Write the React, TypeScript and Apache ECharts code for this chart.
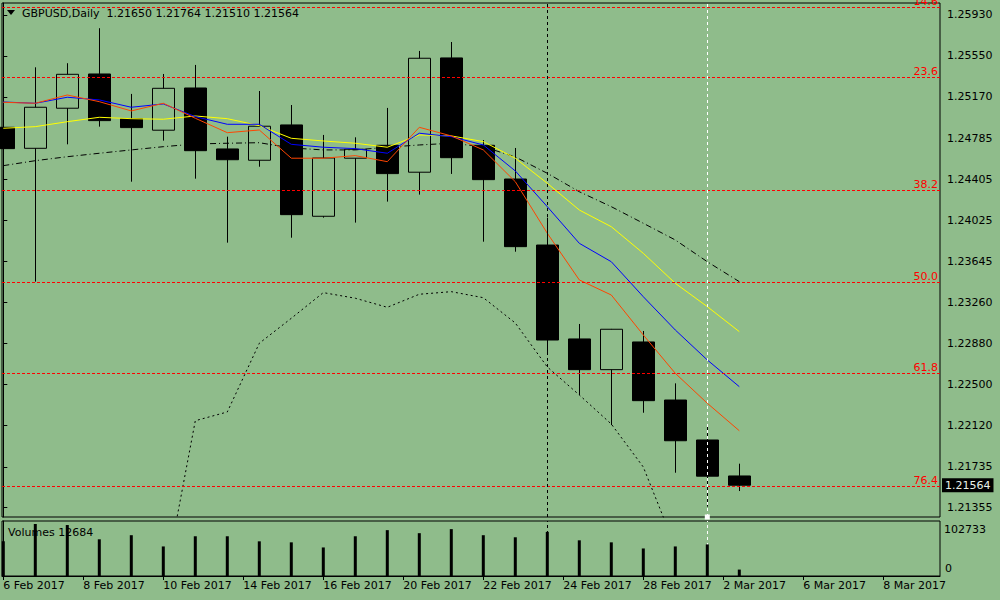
import React, { useEffect, useRef } from "react";
import * as echarts from "echarts";

// ---- data ----
const opens = [1.24887, 1.24692, 1.25064, 1.25382, 1.24967, 1.2486, 1.25252, 1.24686, 1.24581, 1.24909, 1.24061, 1.246, 1.2472, 1.2447, 1.25531, 1.2472, 1.24407, 1.23794, 1.22922, 1.22637, 1.22894, 1.22355, 1.21984, 1.2165];
const closes = [1.24689, 1.25073, 1.25379, 1.24949, 1.24884, 1.25249, 1.2467, 1.24586, 1.24897, 1.24076, 1.24602, 1.24683, 1.24457, 1.25528, 1.24605, 1.24401, 1.23779, 1.22912, 1.22637, 1.23012, 1.22349, 1.21977, 1.21648, 1.21564];
const lows = [1.24252, 1.23454, 1.24729, 1.24893, 1.24382, 1.24763, 1.2441, 1.23816, 1.24521, 1.23862, 1.24048, 1.24002, 1.24197, 1.24262, 1.24454, 1.23825, 1.23732, 1.22801, 1.22402, 1.22123, 1.22237, 1.2168, 1.21365, 1.2151];
const highs = [1.24971, 1.25444, 1.25482, 1.25807, 1.25197, 1.25382, 1.25466, 1.248, 1.25224, 1.25094, 1.24816, 1.24794, 1.25067, 1.25596, 1.25679, 1.24769, 1.24695, 1.24048, 1.23061, 1.23015, 1.22996, 1.2251, 1.22132, 1.21764];
const volumes = [68500, 102733, 100700, 72500, 80600, 58400, 78500, 78500, 68500, 66500, 56400, 78500, 90600, 84600, 92600, 80600, 76500, 87200, 70500, 66500, 54400, 58400, 62400, 12684];

const maRed = [1.25119, 1.2511, 1.25187, 1.25125, 1.25039, 1.2511, 1.24971, 1.24837, 1.24862, 1.246, 1.246, 1.24624, 1.24568, 1.24887, 1.24807, 1.24677, 1.24382, 1.23903, 1.2347, 1.2333, 1.22959, 1.22603, 1.22325, 1.2207];
const maBlue = [1.25122, 1.2511, 1.25166, 1.25141, 1.25073, 1.25104, 1.24986, 1.24915, 1.24915, 1.24729, 1.24702, 1.24689, 1.24646, 1.24832, 1.248, 1.24723, 1.24482, 1.2415, 1.2381, 1.23639, 1.23314, 1.23005, 1.22727, 1.22479];
const maYellow = [1.24878, 1.24893, 1.24939, 1.2498, 1.24967, 1.24962, 1.24992, 1.24967, 1.24902, 1.24785, 1.2476, 1.24739, 1.24702, 1.24816, 1.24807, 1.24754, 1.246, 1.24367, 1.24119, 1.23964, 1.23717, 1.23439, 1.23222, 1.2299];
const maSlow = [1.24531, 1.24577, 1.24614, 1.24646, 1.24677, 1.24707, 1.24732, 1.24739, 1.24744, 1.24695, 1.24677, 1.24677, 1.24702, 1.24723, 1.24739, 1.24707, 1.24612, 1.2446, 1.24289, 1.2415, 1.23996, 1.23841, 1.23639, 1.23454];
const bandLower = [null, null, null, null, null, 1.20591, 1.22163, 1.22244, 1.22882, 1.23114, 1.23352, 1.233, 1.23216, 1.23337, 1.23361, 1.23305, 1.2307, 1.22662, 1.22402, 1.22132, 1.21733, 1.2099, null];

const priceTicks = [1.2593, 1.2555, 1.2517, 1.24785, 1.24405, 1.24025, 1.23645, 1.2326, 1.2288, 1.225, 1.2212, 1.21735, 1.21355];
const dateTickPos = [0, 2.5, 5, 7.5, 10, 12.5, 15, 17.5, 20, 22.5, 25, 27.5];
const dateLabels = ["6 Feb 2017", "8 Feb 2017", "10 Feb 2017", "14 Feb 2017", "16 Feb 2017", "20 Feb 2017", "22 Feb 2017", "24 Feb 2017", "28 Feb 2017", "2 Mar 2017", "6 Mar 2017", "8 Mar 2017"];
const fibLabels = ["14.6", "23.6", "38.2", "50.0", "61.8", "76.4"];
const fibPrices = [1.25999, 1.25349, 1.243, 1.23446, 1.22601, 1.21552];
const volumeAxisLabels = ["102733", "0"];
const titleText = "GBPUSD,Daily  1.21650 1.21764 1.21510 1.21564";
const volumeTitle = "Volumes 12684";
const lastPrice = 1.21564;
const blackLineBar = 17;
const whiteLineBar = 22;

const FONT = "DejaVu Sans";
const BG = "#8fbc8b";

export default function App() {
  const ref = useRef<HTMLDivElement>(null);
  useEffect(() => {
    document.body.style.margin = "0";
    const chart = echarts.init(ref.current!, undefined, { renderer: "svg" });
    const xMin = -0.0406;
    const xMax = xMin + 938 / 32;
    const yMin = 1.21269;
    const yMax = 1.26041;
    const volMax = 108660;
    const idx = opens.map((_, i) => i);
    const txt = { fontSize: 11, fontFamily: FONT };
    const lineS = (name: string, vals: (number | null)[], color: string, type: any, extra: any = {}) => ({
      name,
      type: "line",
      xAxisIndex: 0,
      yAxisIndex: 0,
      data: vals.map((v, i) => [i, v]),
      showSymbol: false,
      symbol: "none",
      connectNulls: false,
      lineStyle: { color, width: 1, type },
      z: 5,
      silent: true,
      ...extra,
    });
    const mainMarks = {
      silent: true,
      symbol: "none",
      precision: 6,
      animation: false,
      z: 6,
      data: [
        ...fibPrices.map((p, k) => ({
          yAxis: p,
          lineStyle: { color: "#ff0000", type: [3, 2], width: 1 },
          label: { show: true, position: "insideEndTop", formatter: fibLabels[k], color: "#ff0000", distance: [2, 1], ...txt },
        })),
        {
          xAxis: blackLineBar,
          lineStyle: { color: "#000", type: [3, 3], width: 1 },
          label: { show: false },
        },
        {
          xAxis: whiteLineBar,
          symbol: ["circle", "circle"],
          symbolSize: 5,
          itemStyle: { color: "#fff" },
          lineStyle: { color: "#fff", type: [3, 3], width: 1 },
          label: { show: false },
        },
        {
          yAxis: lastPrice,
          lineStyle: { color: "rgba(0,0,0,0)", width: 0 },
          label: {
            show: true, position: "end", formatter: lastPrice.toFixed(5), distance: 2,
            backgroundColor: "#000", color: "#e8f0e8", padding: [1, 3, 1, 3], lineHeight: 12, ...txt,
          },
        },
      ],
    };
    const option: any = {
      animation: false,
      backgroundColor: BG,
      grid: [
        { left: 2, top: 3, width: 938, height: 514, show: true, borderColor: "#000", borderWidth: 1, backgroundColor: "transparent" },
        { left: 2, top: 521, width: 938, height: 55, show: true, borderColor: "#000", borderWidth: 1, backgroundColor: "transparent" },
      ],
      xAxis: [
        { type: "value", gridIndex: 0, min: xMin, max: xMax, show: false },
        {
          type: "value", gridIndex: 1, min: xMin, max: xMax,
          axisLine: { show: true, lineStyle: { color: "#000", width: 1 } },
          axisTick: { show: true, customValues: dateTickPos, length: 4, lineStyle: { color: "#000" } },
          axisLabel: {
            customValues: dateTickPos,
            formatter: (v: number) => {
              const k = dateTickPos.findIndex((p) => Math.abs(p - v) < 1e-6);
              return k >= 0 ? dateLabels[k] : "";
            },
            align: "left", margin: 4, color: "#000", ...txt,
          },
          splitLine: { show: false },
        },
      ],
      yAxis: [
        {
          type: "value", gridIndex: 0, position: "right", min: yMin, max: yMax,
          axisLine: { show: true, lineStyle: { color: "#000" } },
          axisTick: { show: true, customValues: priceTicks, length: 4, lineStyle: { color: "#000" } },
          axisLabel: { customValues: priceTicks, formatter: (v: number) => v.toFixed(5), margin: 7, color: "#000", ...txt },
          splitLine: { show: false },
        },
        {
          type: "value", gridIndex: 1, position: "right", min: 0, max: volMax,
          axisLine: { show: true, lineStyle: { color: "#000" } },
          axisTick: { show: false }, axisLabel: { show: false }, splitLine: { show: false },
        },
      ],
      series: [
        {
          type: "candlestick",
          xAxisIndex: 0, yAxisIndex: 0,
          data: idx.map((i) => [i, opens[i], closes[i], lows[i], highs[i]]),
          barWidth: 23,
          itemStyle: { color: BG, color0: "#000", borderColor: "#000", borderColor0: "#000", borderWidth: 1 },
          z: 2,
          silent: true,
        },
        lineS("slow", maSlow, "#000", [6, 3, 1, 3]),
        lineS("lower", bandLower, "#000", [2, 3]),
        lineS("yellow", maYellow, "#ffff00", "solid"),
        lineS("blue", maBlue, "#0000ff", "solid"),
        lineS("red", maRed, "#ff4500", "solid", { markLine: mainMarks }),
        {
          type: "bar",
          xAxisIndex: 1, yAxisIndex: 1,
          data: idx.map((i) => [i, volumes[i]]),
          barWidth: 3,
          itemStyle: { color: "#000" },
          silent: true,
          z: 3,
          markLine: {
            silent: true,
            symbol: "none",
            animation: false,
            z: 1,
            data: [
              { xAxis: blackLineBar, lineStyle: { color: "#000", type: [3, 3], width: 1 }, label: { show: false } },
              { xAxis: whiteLineBar, lineStyle: { color: "#fff", type: [3, 3], width: 1 }, label: { show: false } },
            ],
          },
        },
      ],
      graphic: [
        { type: "polygon", shape: { points: [[7, 10], [15, 10], [11, 15]] }, style: { fill: "#000" }, silent: true },
        { type: "text", x: 22, y: 13, style: { text: titleText, fill: "#000", verticalAlign: "middle", ...txt }, silent: true },
        { type: "text", x: 8, y: 532, style: { text: volumeTitle, fill: "#000", verticalAlign: "middle", ...txt }, silent: true },
        { type: "text", x: 944, y: 529, style: { text: volumeAxisLabels[0], fill: "#000", verticalAlign: "middle", ...txt }, silent: true },
        { type: "text", x: 945, y: 568, style: { text: volumeAxisLabels[1], fill: "#000", verticalAlign: "middle", ...txt }, silent: true },
      ],
    };
    chart.setOption(option);
    return () => chart.dispose();
  }, []);
  return <div ref={ref} style={{ position: "fixed", left: 0, top: 0, width: 1000, height: 600 }} />;
}
